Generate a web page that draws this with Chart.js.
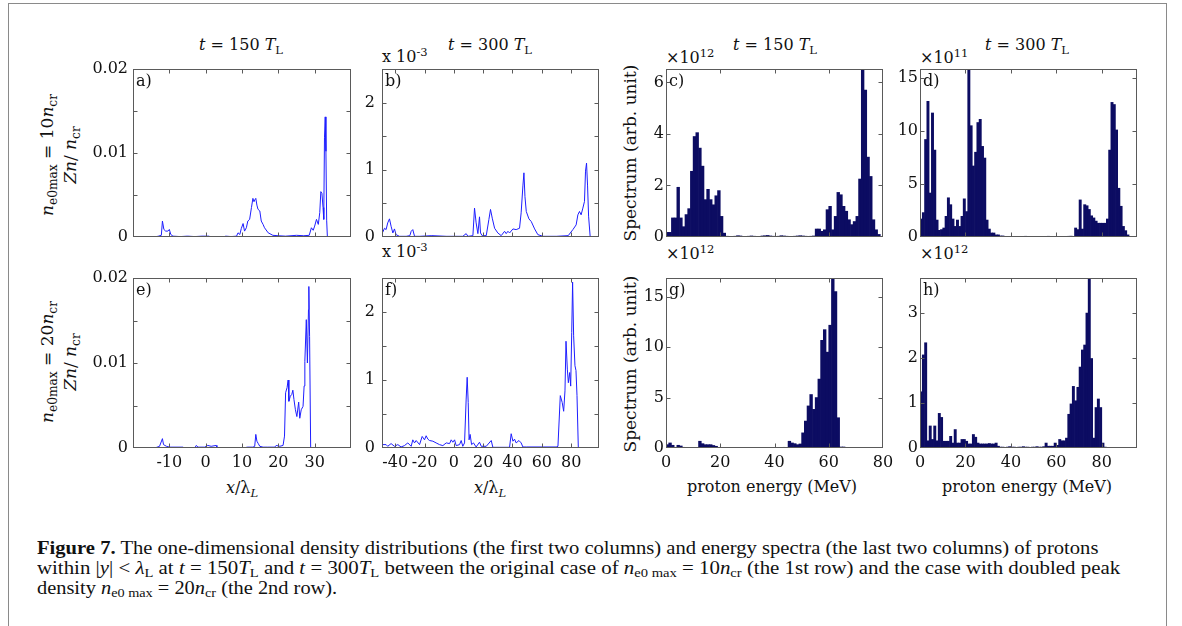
<!DOCTYPE html>
<html>
<head>
<meta charset="utf-8">
<script src="https://cdn.jsdelivr.net/npm/chart.js@4.4.0/dist/chart.umd.min.js"></script>
<style>
  body { margin: 0; width: 1182px; height: 626px; overflow: hidden; position: relative; background: #fff; color: #111; font-family: "DejaVu Serif", serif; }
  canvas { position: absolute; }
  #frame { position: absolute; left: 8px; top: 3px; width: 1157px; height: 700px; border: 1px solid #8a8a8a; }
  .t { position: absolute; white-space: nowrap; font-size: 16px; line-height: 1; }
  .ctr { transform: translate(-50%, -50%); }
  .lft { transform: translateY(-50%); }
  .rot { position: absolute; white-space: nowrap; font-size: 17px; line-height: 23px; text-align: center; transform: translate(-50%, -50%) rotate(-90deg); }
  sub { font-size: 0.72em; vertical-align: -0.35em; line-height: 0; }
  sup { font-size: 0.72em; vertical-align: 0.55em; line-height: 0; }
  .cap { position: absolute; white-space: nowrap; font-family: "Liberation Serif", serif; font-size: 18px; line-height: 1; transform-origin: 0 0; }
  .cap sub { font-size: 0.7em; vertical-align: -0.25em; }
</style>
</head>
<body>
<div id="frame"></div>

<div class="t ctr" style="left:241px;top:45px"><i>t</i> = 150 <i>T</i><sub>L</sub></div>
<div class="t ctr" style="left:490px;top:45px"><i>t</i> = 300 <i>T</i><sub>L</sub></div>
<div class="t ctr" style="left:775px;top:45px"><i>t</i> = 150 <i>T</i><sub>L</sub></div>
<div class="t ctr" style="left:1027px;top:45px"><i>t</i> = 300 <i>T</i><sub>L</sub></div>

<div class="t lft" style="left:382px;top:57px">x 10<sup>-3</sup></div>
<div class="t lft" style="left:382px;top:252px">x 10<sup>-3</sup></div>
<div class="t lft" style="left:666px;top:58px">×10<sup>12</sup></div>
<div class="t lft" style="left:920px;top:58px">×10<sup>11</sup></div>
<div class="t lft" style="left:666px;top:254px">×10<sup>12</sup></div>
<div class="t lft" style="left:920px;top:254px">×10<sup>12</sup></div>

<div class="rot" style="left:59px;top:155px"><div><i>n</i><sub>e0max</sub> = 10<i>n</i><sub>cr</sub></div><div><i>Zn</i>/ <i>n</i><sub>cr</sub></div></div>
<div class="rot" style="left:59px;top:362px"><div><i>n</i><sub>e0max</sub> = 20<i>n</i><sub>cr</sub></div><div><i>Zn</i>/ <i>n</i><sub>cr</sub></div></div>
<div class="rot" style="left:630px;top:153px">Spectrum (arb. unit)</div>
<div class="rot" style="left:630px;top:364px">Spectrum (arb. unit)</div>

<div class="t ctr" style="left:242px;top:488px"><i>x</i>/λ<sub><i>L</i></sub></div>
<div class="t ctr" style="left:490px;top:488px"><i>x</i>/λ<sub><i>L</i></sub></div>
<div class="t ctr" style="left:772px;top:487px">proton energy (MeV)</div>
<div class="t ctr" style="left:1027px;top:487px">proton energy (MeV)</div>

<div class="cap" data-w="1061" style="left:37px;top:539px"><b>Figure 7.</b> The one-dimensional density distributions (the first two columns) and energy spectra (the last two columns) of protons</div>
<div class="cap" data-w="1083" style="left:37px;top:559px">within |<i>y</i>| &lt; <i>λ</i><sub>L</sub> at <i>t</i> = 150<i>T</i><sub>L</sub> and <i>t</i> = 300<i>T</i><sub>L</sub> between the original case of <i>n</i><sub>e0 max</sub> = 10<i>n</i><sub>cr</sub> (the 1st row) and the case with doubled peak</div>
<div class="cap" data-w="300" style="left:37px;top:579px">density <i>n</i><sub>e0 max</sub> = 20<i>n</i><sub>cr</sub> (the 2nd row).</div>

<script>
// ---- data ----
// a) t=150, 10 n_cr : x/lambda_L vs Zn/n_cr
const aX = [-14, -13, -12.2, -11.9, -11.5, -11, -10.4, -10, -9.6, -9, -7, -5, -3, -1, 1, 1.2, 5.2, 5.5, 7, 8.5,
  8.9, 9.4, 9.8, 10.3, 10.7, 11.2, 11.6, 12.1, 12.6, 13.0, 13.3, 13.5, 13.8, 14.1, 14.4, 14.9, 15.3, 15.8, 16.2, 17.2,
  18.5, 20, 22, 25, 27, 28.5, 29.1, 29.6, 30, 30.5, 31, 31.4, 31.7, 32.0, 32.3, 32.5, 32.7, 32.9, 33.1, 33.3, 33.5];
const aY = [0, 0.0001, 0.0002, 0.0019, 0.0009, 0.0007, 0.0007, 0.0009, 0.0003, 0.0001, 0.00005, 0.0001, 0.00005, 0.0001, 0.0001, 0, 0, 0.0001, 0.00005, 0.0001,
  0.0005, 0.0003, 0.001, 0.0016, 0.0007, 0.0011, 0.0019, 0.0021, 0.0035, 0.0046, 0.0042, 0.0044, 0.0046, 0.0038, 0.0033, 0.0031, 0.0019, 0.0015, 0.0011, 0.0005,
  0.0002, 0.00015, 0.0001, 0.0002, 0.00015, 0.0002, 0.0011, 0.0008, 0.0013, 0.0021, 0.0015, 0.0029, 0.0054, 0.0052, 0.0035, 0.0021, 0.0118, 0.0143, 0.0102, 0.002, 0];

// b) t=300, 10 n_cr (units of 1e-3)
const bX = [-48.5, -47.3, -46.2, -45.1, -43.9, -42.8, -41.6, -40.5, -39.4, -37.1, -32.5, -30, -29.1, -28.0, -26.8, -23.4, -15, -5, 6.1, 8.4,
  9.6, 13.0, 14.1, 15.2, 16.4, 17.5, 18.2, 19.3, 22.1, 23.9, 25.0, 26.2, 27.8, 30.0, 32.3, 34.6, 35.7, 36.9, 38.0, 40.3,
  42.5, 44.8, 45.9, 47.1, 47.8, 48.5, 49.4, 51.2, 52.8, 55.1, 57.3, 60.8, 70, 78, 81.2, 83.4, 84.6, 85.7, 86.8, 88.0,
  89.1, 89.8, 90.5, 91.2, 91.9, 93.0];
const bY = [0.07, 0.13, 0.11, 0.21, 0.27, 0.16, 0.06, 0.12, 0.035, 0.01, 0.01, 0.02, 0.085, 0.11, 0.01, 0.01, 0.02, 0.01, 0.01, 0.05,
  0.01, 0.02, 0.43, 0.21, 0.05, 0.3, 0.06, 0.02, 0.02, 0.26, 0.41, 0.28, 0.13, 0.06, 0.02, 0.085, 0.05, 0.085, 0.06, 0.12,
  0.11, 0.13, 0.36, 0.76, 0.955, 0.6, 0.38, 0.27, 0.23, 0.12, 0.035, 0.01, 0.01, 0.02, 0.11, 0.18, 0.33, 0.38, 0.33, 0.43,
  0.53, 0.98, 1.1, 0.76, 0.31, 0];

// e) t=150, 20 n_cr
const eX = [-14.0, -12.7, -11.9, -11.6, -10.8, -9.9, -6.2, -6.1, -3.0, -2.6, -2.1, -1.7, -0.3, 0.6, 1.5, 2.9, 3.1, 10.3, 11.5, 13.0,
  13.5, 13.8, 14.1, 14.5, 14.9, 15.8, 17, 19.0, 19.4, 20.4, 21.3, 21.7, 22.0, 22.4, 22.7, 22.9, 23.3, 23.7, 24.0, 24.3,
  24.7, 25.1, 25.6, 25.9, 26.3, 26.8, 27.1, 27.3, 27.7, 28.0, 28.3, 28.4, 28.6, 28.9];
const eY = [0, 0.0002, 0.0011, 0.0004, 0.0002, 0.0001, 0.0001, 0, 0, 0.0003, 0.0001, 0.0001, 0.0001, 0.0003, 0.0002, 0.0003, 0, 0, 0.0001, 0.0001,
  0.0002, 0.0016, 0.0008, 0.0005, 0.0002, 0.0001, 0.0001, 0.0001, 0.0003, 0.0002, 0.0003, 0.0014, 0.0065, 0.0071, 0.008, 0.0055, 0.0061, 0.0063, 0.0068, 0.0057,
  0.0045, 0.0037, 0.0054, 0.0035, 0.0045, 0.0049, 0.0073, 0.0102, 0.0151, 0.010, 0.0163, 0.019, 0.0131, 0];

// f) t=300, 20 n_cr (units of 1e-3)
const fX = [-49, -46.2, -45.1, -42.8, -40.5, -38.2, -36.0, -33.7, -31.4, -29.1, -28.0, -26.8, -25.7, -23.4, -21.6, -20.0, -18.9, -17.7, -16.6, -14.3,
  -12.1, -9.8, -7.5, -5.2, -2.9, -1.8, -0.7, 0.5, 1.6, 3.9, 5.0, 6.1, 7.3, 8.4, 9.1, 9.8, 10.4, 11.1, 12.1, 13.4,
  15.2, 17.5, 18.7, 22.1, 25.5, 26.6, 31.2, 38.0, 39.1, 40.3, 41.4, 42.5, 44.4, 45.9, 47.1, 49.4, 69.8, 71.0, 72.6, 73.9,
  74.9, 75.8, 76.5, 77.4, 78.1, 79.0, 79.7, 80.4, 81.0, 81.7, 82.6, 83.3, 84.0, 84.9];
const fY = [0.05, 0.05, 0.025, 0.065, 0.025, 0.05, 0.015, 0.035, 0.075, 0.025, 0.12, 0.075, 0.11, 0.05, 0.17, 0.12, 0.18, 0.13, 0.11, 0.1,
  0.075, 0.05, 0.035, 0.075, 0.065, 0.12, 0.085, 0.12, 0.035, 0.05, 0.11, 0.025, 0.075, 0.72, 1.04, 0.67, 0.12, 0.2, 0.05, 0.075,
  0.015, 0.085, 0.025, 0.025, 0.11, 0.01, 0.01, 0.01, 0.21, 0.1, 0.13, 0.075, 0.11, 0.075, 0.015, 0.015, 0.015, 0.025, 0.77, 0.67,
  0.54, 0.84, 1.57, 1.16, 0.96, 1.11, 0.91, 1.70, 2.44, 1.65, 1.21, 1.14, 0.77, 0];

// spectra, 1 MeV bins starting at 0 MeV
const cSpec = [0.18, 0.18, 0.74, 0.74, 1.93, 0.74, 0.4, 0.87, 1.1, 2.55, 3.9, 4.05, 3.45, 2.75, 1.45, 1.85, 1.45, 1.25, 1.6, 1.8,
  0.8, 0.15, 0.03, 0.02, 0.02, 0.03, 0.05, 0.04, 0.02, 0.02, 0.03, 0.04, 0.03, 0.02, 0.02, 0.04, 0.05, 0.06, 0.04, 0.03,
  0.02, 0.03, 0.05, 0.04, 0.03, 0.02, 0.02, 0.03, 0.04, 0.05, 0.04, 0.03, 0.02, 0.03, 0.04, 0.31, 0.31, 0.22, 0.28, 1.06,
  1.19, 0.28, 0.8, 1.73, 1.64, 1.19, 1.0, 0.67, 0.48, 0.6, 0.8, 2.25, 6.5, 5.7, 3.1, 2.35, 0.67, 0.28, 0.1, 0];
const dSpec = [1.7, 2.3, 9.2, 12.8, 4.15, 11.7, 8.2, 1.6, 0.63, 0.7, 0.85, 1.95, 3.7, 3.05, 1.7, 1.0, 1.6, 1.0, 1.95, 3.6,
  2.4, 16.0, 10.5, 6.7, 8.0, 10.8, 11.1, 8.55, 7.45, 1.6, 0.75, 0.38, 0.38, 0.2, 0.2, 0.1, 0.1, 0.05, 0.04, 0.03,
  0.05, 0.06, 0.05, 0.04, 0.05, 0.06, 0.07, 0.05, 0.04, 0.05, 0.06, 0.05, 0.04, 0.05, 0.06, 0.05, 0.07, 0.06, 0.05, 0.04,
  0.05, 0.06, 0.05, 0.04, 0.05, 0.07, 0.08, 0.06, 0.85, 0.7, 3.5, 0.75, 3.05, 2.95, 2.6, 2.0, 1.8, 1.5, 1.3, 1.3,
  1.3, 1.3, 1.7, 8.2, 12.7, 12.5, 10.1, 4.6, 2.9, 1.0, 0.6, 0.2, 0.05, 0, 0];
const gSpec = [0.33, 0.5, 0.27, 0.07, 0.27, 0.2, 0.07, 0.03, 0.03, 0.02, 0.03, 0.03, 0.67, 0.43, 0.33, 0.33, 0.33, 0.25, 0.17, 0.05,
  0.04, 0.05, 0.06, 0.05, 0.04, 0.05, 0.05, 0.04, 0.03, 0.05, 0.06, 0.05, 0.04, 0.05, 0.06, 0.05, 0.04, 0.05, 0.06, 0.05,
  0.04, 0.05, 0.06, 0.07, 0.06, 0.67, 0.5, 0.43, 0.33, 0.4, 1.5, 2.67, 4.17, 5.3, 3.83, 5.0, 6.83, 10.67, 11.73, 9.5,
  12.17, 16.9, 15.5, 3.0, 0.1, 0.1, 0, 0, 0, 0, 0, 0, 0, 0, 0, 0, 0, 0, 0, 0];
const hSpec = [1.25, 2.07, 2.34, 0.16, 0.49, 0.19, 0.49, 0.16, 0.77, 0.68, 0.15, 0.15, 0.15, 0.26, 0.11, 0.41, 0.11, 0.11, 0.19, 0.19,
  0.15, 0.09, 0.09, 0.3, 0.24, 0.11, 0.09, 0.09, 0.09, 0.09, 0.1, 0.09, 0.09, 0.11, 0.04, 0.02, 0.02, 0.01, 0.02, 0.03,
  0.02, 0.02, 0.01, 0.02, 0.02, 0.03, 0.02, 0.02, 0.01, 0.02, 0.02, 0.03, 0.02, 0.02, 0.03, 0.11, 0.04, 0.04, 0.04, 0.11,
  0.06, 0.19, 0.16, 0.16, 0.22, 0.75, 0.98, 1.37, 1.05, 1.35, 1.8, 2.18, 2.29, 3.0, 3.8, 1.99, 0.22, 0.9, 1.09, 0.9,
  0.11, 0.02, 0, 0, 0, 0, 0, 0, 0, 0, 0, 0, 0, 0, 0, 0];

// tick values
const xTicksDensA = [-10, 0, 10, 20, 30];
const xTicksDensB = [-40, -20, 0, 20, 40, 60, 80];
const xTicksSpec = [0, 20, 40, 60, 80];
const yTicksDens = [0, 0.005, 0.01, 0.015, 0.02];
const yTicksDensE3 = [0, 0.5, 1, 1.5, 2];
const yTicksC = [0, 2, 4, 6];
const yTicksD = [0, 5, 10, 15];
const yTicksG = [0, 5, 10, 15];
const yTicksH = [0, 1, 2, 3];

const LINE = '#1e1eff';
const BAR = '#0c0c62';

Chart.defaults.font.family = 'DejaVu Serif';
Chart.defaults.font.size = 16;
Chart.defaults.color = '#111';

// MATLAB-like box with inward ticks on all sides
const boxTicks = {
  id: 'boxTicks',
  afterDraw(chart) {
    const {ctx, chartArea: a, scales: {x, y}} = chart;
    const L = Math.round(a.left) + 0.5, R = Math.round(a.right) - 0.5;
    const T = Math.round(a.top) + 0.5, B = Math.round(a.bottom) - 0.5;
    ctx.save();
    ctx.strokeStyle = '#5a5a5a';
    ctx.lineWidth = 1;
    ctx.strokeRect(L, T, R - L, B - T);
    ctx.beginPath();
    x.ticks.forEach(t => {
      const p = Math.round(x.getPixelForValue(t.value)) + 0.5;
      if (p <= L + 1 || p >= R - 1) return;
      ctx.moveTo(p, B); ctx.lineTo(p, B - 4);
      ctx.moveTo(p, T); ctx.lineTo(p, T + 4);
    });
    y.ticks.forEach(t => {
      const p = Math.round(y.getPixelForValue(t.value)) + 0.5;
      if (p <= T + 1 || p >= B - 1) return;
      ctx.moveTo(L, p); ctx.lineTo(L + 4, p);
      ctx.moveTo(R, p); ctx.lineTo(R - 4, p);
    });
    ctx.stroke();
    ctx.restore();
  }
};

const pts = (xs, ys) => xs.map((v, i) => ({x: v, y: ys[i]}));
const bins = spec => spec.map((v, i) => ({x: i + 0.5, y: v}));

function lineSet(xs, ys) {
  return {type: 'line', data: pts(xs, ys), borderColor: LINE, borderWidth: 1, pointRadius: 0, tension: 0};
}
function barSet(spec) {
  return {type: 'bar', data: bins(spec), backgroundColor: BAR, borderWidth: 0, barPercentage: 1, categoryPercentage: 1};
}

function panel(box, ds, xr, yr, showX, yPad, yFmt) {
  const padL = 60, padT = 10, padR = 14, padB = showX ? 40 : 12;
  const cv = document.createElement('canvas');
  cv.width = box.r - box.l + padL + padR;
  cv.height = box.b - box.t + padT + padB;
  cv.style.left = (box.l - padL) + 'px';
  cv.style.top = (box.t - padT) + 'px';
  document.body.appendChild(cv);
  new Chart(cv, {
    type: ds.type,
    data: {datasets: [ds]},
    options: {
      responsive: false, animation: false, devicePixelRatio: 1,
      layout: {padding: {left: 0, top: padT, right: padR, bottom: 0}},
      plugins: {legend: {display: false}, tooltip: {enabled: false}},
      scales: {
        x: {
          type: 'linear', min: xr.min, max: xr.max, offset: false,
          afterBuildTicks: s => { s.ticks = xr.ticks.map(v => ({value: v})); },
          afterFit: s => { s.height = padB; s.paddingLeft = 0; s.paddingRight = 0; },
          grid: {display: false, drawTicks: false}, border: {display: false},
          ticks: {display: showX, padding: 5, maxRotation: 0, autoSkip: false, callback: v => String(v)}
        },
        y: {
          type: 'linear', min: yr.min, max: yr.max,
          afterBuildTicks: s => { s.ticks = yr.ticks.map(v => ({value: v})); },
          afterFit: s => { s.width = padL; s.paddingTop = 0; s.paddingBottom = 0; },
          grid: {display: false, drawTicks: false}, border: {display: false},
          ticks: {padding: yPad, autoSkip: false, callback: yFmt}
        }
      }
    },
    plugins: [boxTicks]
  });
}

const fmtDens = v => {
  const k = Math.round(v * 100);
  if (Math.abs(v * 100 - k) > 1e-6) return '';
  return k === 0 ? '0' : (k / 100).toFixed(2);
};
const fmtInt = v => (Math.abs(v - Math.round(v)) > 1e-6 ? '' : String(Math.round(v)));

const xA = {min: -20, max: 40, ticks: xTicksDensA};
const xB = {min: -49, max: 99, ticks: xTicksDensB};
const xC = {min: 0, max: 80, ticks: xTicksSpec};
const xD = {min: 0, max: 95.5, ticks: xTicksSpec};

// panel boxes in page pixels
panel({l: 133, t: 69, r: 351, b: 237}, lineSet(aX, aY), xA, {min: 0, max: 0.02, ticks: yTicksDens}, false, 5, fmtDens);
panel({l: 382, t: 69, r: 599, b: 237}, lineSet(bX, bY), xB, {min: 0, max: 2.5, ticks: yTicksDensE3}, false, 7, fmtInt);
panel({l: 666, t: 69, r: 883, b: 237}, barSet(cSpec), xC, {min: 0, max: 6.52, ticks: yTicksC}, false, 2, fmtInt);
panel({l: 920, t: 69, r: 1137, b: 237}, barSet(dSpec), xD, {min: 0, max: 15.85, ticks: yTicksD}, false, 2, fmtInt);
panel({l: 133, t: 278, r: 351, b: 448}, lineSet(eX, eY), xA, {min: 0, max: 0.02, ticks: yTicksDens}, true, 5, fmtDens);
panel({l: 382, t: 278, r: 599, b: 448}, lineSet(fX, fY), xB, {min: 0, max: 2.5, ticks: yTicksDensE3}, true, 7, fmtInt);
panel({l: 666, t: 278, r: 883, b: 448}, barSet(gSpec), xC, {min: 0, max: 16.85, ticks: yTicksG}, true, 2, fmtInt);
panel({l: 920, t: 278, r: 1137, b: 448}, barSet(hSpec), xD, {min: 0, max: 3.78, ticks: yTicksH}, true, 2, fmtInt);

// panel letters
[['a)', 133, 69], ['b)', 382, 69], ['c)', 666, 69], ['d)', 920, 69],
 ['e)', 133, 278], ['f)', 382, 278], ['g)', 666, 278], ['h)', 920, 278]].forEach(([s, l, t]) => {
  const d = document.createElement('div');
  d.className = 't';
  d.textContent = s;
  d.style.left = (l + 3) + 'px';
  d.style.top = (t + 4) + 'px';
  document.body.appendChild(d);
});

// squeeze caption lines to the condensed width of the original
document.querySelectorAll('.cap').forEach(el => {
  const w = +el.dataset.w;
  el.style.transform = 'scaleX(' + (w / el.offsetWidth) + ')';
});
</script>
</body>
</html>
